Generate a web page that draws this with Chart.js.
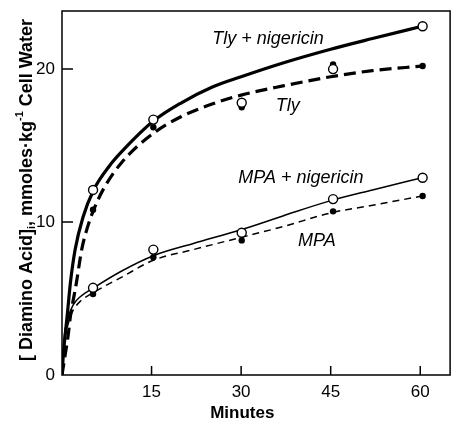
<!DOCTYPE html>
<html>
<head>
<meta charset="utf-8">
<script src="https://cdn.jsdelivr.net/npm/chart.js@4.4.0/dist/chart.umd.min.js"></script>
<style>
  html, body { margin: 0; padding: 0; background: #fff; }
  #wrap { width: 456px; height: 421px; }
</style>
</head>
<body>
<div id="wrap"><canvas id="myChart" width="456" height="421"></canvas></div>
<script>
// sampled minutes and measured uptake
const pointMinutes = [5.2, 15.3, 30.1, 45.4, 60.4];
const tlyNigPoints = [12.1, 16.7, 17.8, 20.0, 22.8];
const tlyPoints = [10.8, 16.2, 17.5, 20.3, 20.2];
const mpaNigPoints = [5.7, 8.2, 9.3, 11.5, 12.9];
const mpaPoints = [5.3, 7.7, 8.8, 10.7, 11.7];

// hand-drawn fitted curves
const tlyNigCurveX = [0, 0.2, 0.5, 0.9, 1.4, 2.2, 3.5, 5.3, 8, 10, 15.3, 20, 25, 30, 37, 45, 52, 60.3];
const tlyNigCurveY = [0, 1.2, 2.5, 4.0, 6.0, 8.2, 10.3, 12.1, 13.7, 14.6, 16.6, 17.8, 18.8, 19.5, 20.4, 21.3, 22.0, 22.8];
const tlyCurveX = [0, 0.4, 1.0, 1.4, 2.4, 3.3, 4.3, 5.3, 7, 10, 15.3, 20, 25, 30, 37, 45, 52, 60.3];
const tlyCurveY = [0, 1.0, 2.5, 3.8, 6.0, 8.2, 9.7, 10.8, 12.2, 13.9, 15.8, 16.9, 17.7, 18.3, 18.9, 19.5, 19.9, 20.2];
const mpaNigCurveX = [0, 0.2, 0.5, 0.9, 1.3, 1.9, 3, 5.3, 10, 15.3, 22, 30, 37, 45, 52, 60.3];
const mpaNigCurveY = [0, 1.5, 2.9, 3.5, 4.05, 4.6, 5.1, 5.7, 6.8, 7.8, 8.6, 9.5, 10.4, 11.4, 12.1, 12.9];
const mpaCurveX = [0, 0.2, 0.5, 0.9, 1.3, 1.9, 3, 5.3, 10, 15.3, 22, 30, 37, 45, 52, 60.3];
const mpaCurveY = [0, 1.3, 2.6, 3.15, 3.7, 4.25, 4.8, 5.4, 6.4, 7.5, 8.2, 9.0, 9.7, 10.6, 11.1, 11.7];

const xTicks = [15, 30, 45, 60];
const yTicks = [0, 10, 20];

const curveLabels = [
    { text: 'Tly + nigericin', x: 34.5, y: 22.0 },
    { text: 'Tly', x: 37.8, y: 17.6 },
    { text: 'MPA + nigericin', x: 40.0, y: 12.9 },
    { text: 'MPA', x: 42.7, y: 8.75 }
];

function zip(xs, ys) {
    return xs.map((x, i) => ({ x: x, y: ys[i] }));
}

function openPoints(ys) {
    return {
        data: zip(pointMinutes, ys),
        showLine: false,
        pointRadius: 4.5,
        pointBackgroundColor: '#fff',
        pointBorderColor: '#000',
        pointBorderWidth: 1.4
    };
}

function filledPoints(ys) {
    return {
        data: zip(pointMinutes, ys),
        showLine: false,
        pointRadius: 3.2,
        pointBackgroundColor: '#000',
        pointBorderColor: '#000',
        pointBorderWidth: 0
    };
}

function curve(xs, ys, width, dash) {
    return {
        data: zip(xs, ys),
        showLine: true,
        borderColor: '#000',
        borderWidth: width,
        borderDash: dash,
        pointRadius: 0,
        cubicInterpolationMode: 'monotone'
    };
}

// scales keep exactly the size given, no extra label padding
function fixSize(prop, size) {
    return s => {
        s[prop] = size;
        s.paddingTop = 0;
        s.paddingBottom = 0;
        s.paddingLeft = 0;
        s.paddingRight = 0;
    };
}

// frame, inward ticks, text on the plot
const decorations = {
    id: 'decorations',
    afterDraw(chart) {
        const ctx = chart.ctx;
        const area = chart.chartArea;
        const xs = chart.scales.x;
        const ys = chart.scales.y;
        ctx.save();
        ctx.strokeStyle = '#000';
        ctx.lineWidth = 1.5;
        ctx.strokeRect(area.left, area.top, area.right - area.left, area.bottom - area.top);

        ctx.beginPath();
        xTicks.forEach(v => {
            const px = xs.getPixelForValue(v);
            ctx.moveTo(px, area.bottom);
            ctx.lineTo(px, area.bottom - 9);
        });
        yTicks.slice(1).forEach(v => {
            const py = ys.getPixelForValue(v);
            ctx.moveTo(area.left, py);
            ctx.lineTo(area.left + 11, py);
        });
        ctx.stroke();

        ctx.fillStyle = '#000';
        ctx.font = 'italic 18px "Liberation Sans", Arial, sans-serif';
        ctx.textAlign = 'center';
        ctx.textBaseline = 'middle';
        curveLabels.forEach(l => {
            ctx.fillText(l.text, xs.getPixelForValue(l.x), ys.getPixelForValue(l.y));
        });

        // x title
        ctx.font = 'bold 17px "Liberation Sans", Arial, sans-serif';
        ctx.fillText('Minutes', xs.getPixelForValue(30.2), 413);

        // y title with subscript and superscript
        const main = 'bold 18px "Liberation Sans", Arial, sans-serif';
        const small = 'bold 11px "Liberation Sans", Arial, sans-serif';
        const parts = [
            { t: '[ Diamino Acid]', f: main, dy: 0 },
            { t: 'i', f: small, dy: 5 },
            { t: ', mmoles\u00b7kg', f: main, dy: 0 },
            { t: '-1', f: small, dy: -7 },
            { t: ' Cell Water', f: main, dy: 0 }
        ];
        let total = 0;
        parts.forEach(p => { ctx.font = p.f; p.w = ctx.measureText(p.t).width; total += p.w; });
        ctx.translate(27, 190);
        ctx.rotate(-Math.PI / 2);
        ctx.textAlign = 'left';
        let pos = -total / 2;
        parts.forEach(p => {
            ctx.font = p.f;
            ctx.fillText(p.t, pos, p.dy);
            pos += p.w;
        });
        ctx.restore();
    }
};

const ctx = document.getElementById('myChart').getContext('2d');
new Chart(ctx, {
    type: 'scatter',
    data: {
        datasets: [
            openPoints(tlyNigPoints),
            filledPoints(tlyPoints),
            openPoints(mpaNigPoints),
            filledPoints(mpaPoints),
            curve(tlyNigCurveX, tlyNigCurveY, 3.2, []),
            curve(tlyCurveX, tlyCurveY, 3.2, [12, 6]),
            curve(mpaNigCurveX, mpaNigCurveY, 1.5, []),
            curve(mpaCurveX, mpaCurveY, 1.5, [7, 5])
        ]
    },
    options: {
        responsive: false,
        animation: false,
        events: [],
        layout: { padding: { top: 11, right: 0, left: 0, bottom: 0 } },
        plugins: { legend: { display: false }, tooltip: { enabled: false } },
        scales: {
            x: {
                type: 'linear',
                min: 0,
                max: 65,
                grid: { display: false, drawTicks: false },
                border: { display: false },
                afterBuildTicks: s => { s.ticks = xTicks.map(v => ({ value: v })); },
                afterFit: fixSize('height', 46),
                ticks: {
                    color: '#000',
                    padding: 7,
                    font: { family: '"Liberation Sans", Arial, sans-serif', size: 17 }
                }
            },
            y: {
                min: 0,
                max: 23.8,
                grid: { display: false, drawTicks: false },
                border: { display: false },
                afterBuildTicks: s => { s.ticks = yTicks.map(v => ({ value: v })); },
                afterFit: fixSize('width', 62),
                ticks: {
                    color: '#000',
                    padding: 7,
                    font: { family: '"Liberation Sans", Arial, sans-serif', size: 17 }
                }
            }
        }
    },
    plugins: [decorations]
});
</script>
</body>
</html>
